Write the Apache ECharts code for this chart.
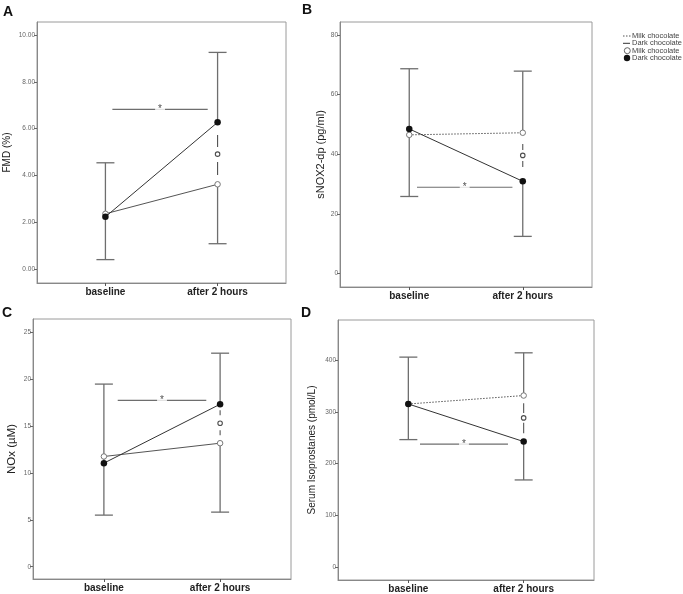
<!DOCTYPE html>
<html>
<head>
<meta charset="utf-8">
<script src="https://cdn.jsdelivr.net/npm/echarts@6/dist/echarts.min.js"></script>
<style>html,body{margin:0;padding:0;background:#fff;}#chart{width:683px;height:594px;}</style>
</head>
<body>
<div id="chart"></div>
<script>
// ---- data ----
const timepoints = ['baseline', 'after 2 hours'];
const panelLetters = ['A', 'B', 'C', 'D'];
const yNames = ['FMD (%)', 'sNOX2-dp (pg/ml)', 'NOx (\u00b5M)', 'Serum Isoprostanes (pmol/L)'];
const legendNames = ['Milk chocolate', 'Dark chocolate'];

// Panel A: FMD (%)
const fmdMilk = [2.36, 3.62];
const fmdDark = [2.23, 6.27];
const fmdErrLow = [0.40, 1.08];
const fmdErrHigh = [4.54, 9.26];
const fmdTicks = [0, 2, 4, 6, 8, 10];
const fmdStar = [0.062, 0.912, 6.82];
const fmdSig = [4.91, 5.73, 5.21, 4.57, 4.02];

// Panel B: sNOX2-dp
const snoxMilk = [46.5, 47.2];
const snoxDark = [48.5, 30.9];
const snoxErrLow = [25.8, 12.4];
const snoxErrHigh = [68.7, 67.9];
const snoxTicks = [0, 20, 40, 60, 80];
const snoxStar = [0.068, 0.909, 28.9];
const snoxSig = [39.6, 43.4, 41.4, 37.7, 35.7];

// Panel C: NOx
const noxMilk = [11.77, 13.19];
const noxDark = [11.06, 17.35];
const noxErrLow = [5.51, 5.83];
const noxErrHigh = [19.5, 22.8];
const noxTicks = [0, 5, 10, 15, 20, 25];
const noxStar = [0.119, 0.881, 17.77];
const noxSig = [15.32, 16.71, 16.18, 14.58, 14.05];

// Panel D: Serum Isoprostanes
const isoMilk = [315, 331.3];
const isoDark = [315, 242.5];
const isoErrLow = [246.3, 168.5];
const isoErrHigh = [405.4, 413.7];
const isoTicks = [0, 100, 200, 300, 400];
const isoStar = [0.101, 0.864, 237.5];
const isoSig = [288.2, 316.4, 297.7, 279, 258.5];

// ---- layout / style ----
const FONT = 'Liberation Sans, Arial, sans-serif';
const panels = [
  { grid: {left: 37, top: 22, width: 249, height: 261}, y: [-0.6, 10.56], ticks: fmdTicks, fmt: v => v.toFixed(2),
    milk: fmdMilk, dark: fmdDark, lo: fmdErrLow, hi: fmdErrHigh, star: fmdStar, sig: fmdSig, milkDotted: false, nameGap: 25, nameSize: 10 },
  { grid: {left: 340, top: 22, width: 252, height: 265}, y: [-4.6, 84.4], ticks: snoxTicks, fmt: v => String(v),
    milk: snoxMilk, dark: snoxDark, lo: snoxErrLow, hi: snoxErrHigh, star: snoxStar, sig: snoxSig, milkDotted: true, nameGap: 12, nameSize: 11 },
  { grid: {left: 33, top: 319, width: 258, height: 260}, y: [-1.31, 26.45], ticks: noxTicks, fmt: v => String(v),
    milk: noxMilk, dark: noxDark, lo: noxErrLow, hi: noxErrHigh, star: noxStar, sig: noxSig, milkDotted: false, nameGap: 15, nameSize: 11.5 },
  { grid: {left: 338, top: 320, width: 256, height: 260}, y: [-24.5, 477], ticks: isoTicks, fmt: v => String(v),
    milk: isoMilk, dark: isoDark, lo: isoErrLow, hi: isoErrHigh, star: isoStar, sig: isoSig, milkDotted: true, nameGap: 21, nameSize: 10 }
];

// error bar: whisker from lo to hi; at the follow-up point the span between the two group means is left open
function errRender(params, api) {
  const x = api.value(0), lo = api.value(1), hi = api.value(2);
  const gLo = api.value(3), gHi = api.value(4);
  const a = api.coord([x, lo]), b = api.coord([x, hi]);
  const w = 9;
  const st = {stroke: '#6e6e6e', lineWidth: 1.3};
  const children = [
    {type: 'line', shape: {x1: a[0] - w, y1: a[1], x2: a[0] + w, y2: a[1]}, style: st},
    {type: 'line', shape: {x1: b[0] - w, y1: b[1], x2: b[0] + w, y2: b[1]}, style: st}
  ];
  if (isNaN(gLo) || isNaN(gHi)) {
    children.push({type: 'line', shape: {x1: a[0], y1: a[1], x2: b[0], y2: b[1]}, style: st});
  } else {
    const c = api.coord([x, gLo]), d = api.coord([x, gHi]);
    children.push({type: 'line', shape: {x1: a[0], y1: a[1], x2: c[0], y2: c[1]}, style: st});
    children.push({type: 'line', shape: {x1: d[0], y1: d[1], x2: b[0], y2: b[1]}, style: st});
  }
  return {type: 'group', children: children};
}

const grids = [], xAxes = [], yAxes = [], series = [];
panels.forEach((p, i) => {
  grids.push(Object.assign({show: true, borderColor: '#9a9a9a', borderWidth: 1, backgroundColor: '#fff'}, p.grid));
  xAxes.push({
    type: 'value', gridIndex: i, min: -0.61, max: 1.61,
    splitLine: {show: false},
    axisLine: {show: true, onZero: false, lineStyle: {color: '#888', width: 1}},
    axisTick: {show: true, customValues: [0, 1], length: 3, lineStyle: {color: '#555'}},
    axisLabel: {customValues: [0, 1], formatter: v => timepoints[Math.round(v)], fontFamily: FONT,
      fontWeight: 'bold', fontSize: 10, color: '#222', margin: 4}
  });
  yAxes.push({
    type: 'value', gridIndex: i, min: p.y[0], max: p.y[1],
    name: yNames[i], nameLocation: 'middle', nameGap: p.nameGap,
    nameTextStyle: {fontFamily: FONT, fontSize: p.nameSize, color: '#222'},
    splitLine: {show: false},
    axisLine: {show: true, onZero: false, lineStyle: {color: '#888', width: 1}},
    axisTick: {show: true, customValues: p.ticks, length: 3, lineStyle: {color: '#666'}},
    axisLabel: {customValues: p.ticks, formatter: p.fmt, fontFamily: FONT, fontSize: 6.5, color: '#666', margin: 2}
  });
  // error bars
  series.push({
    type: 'custom', xAxisIndex: i, yAxisIndex: i, renderItem: errRender, z: 2, silent: true,
    encode: {x: 0, y: [1, 2]},
    data: [0, 1].map(k => k === 0
      ? [k, p.lo[k], p.hi[k], NaN, NaN]
      : [k, p.lo[k], p.hi[k], Math.min(p.milk[k], p.dark[k]), Math.max(p.milk[k], p.dark[k])])
  });
  // significance bracket with star
  series.push({
    type: 'line', xAxisIndex: i, yAxisIndex: i, z: 3, silent: true, symbol: 'none',
    lineStyle: {color: '#6e6e6e', width: 1.2},
    data: [[p.star[0], p.star[2]], [p.star[1], p.star[2]]]
  });
  series.push({
    type: 'scatter', xAxisIndex: i, yAxisIndex: i, z: 4, silent: true, symbolSize: 1,
    itemStyle: {color: 'rgba(0,0,0,0)'},
    label: {show: true, position: 'inside', formatter: '*', fontFamily: FONT, fontSize: 10, color: '#222',
      backgroundColor: '#fff', padding: [1, 3, 0, 3]},
    data: [[(p.star[0] + p.star[1]) / 2, p.star[2]]]
  });
  // between-group marker (dashed segments + small circle)
  series.push({
    type: 'line', xAxisIndex: i, yAxisIndex: i, z: 3, silent: true, symbol: 'none', connectNulls: false,
    lineStyle: {color: '#555', width: 1.1},
    data: [[1, p.sig[1]], [1, p.sig[2]], [1, null], [1, p.sig[3]], [1, p.sig[4]]]
  });
  series.push({
    type: 'scatter', xAxisIndex: i, yAxisIndex: i, z: 4, silent: true, symbol: 'circle', symbolSize: 4.5,
    itemStyle: {color: '#fff', borderColor: '#222', borderWidth: 1.1},
    data: [[1, p.sig[0]]]
  });
  // milk chocolate
  series.push({
    type: 'line', xAxisIndex: i, yAxisIndex: i, z: 5, silent: true,
    symbol: 'circle', symbolSize: 5.5, showAllSymbol: true,
    lineStyle: {color: '#555', width: 1, type: p.milkDotted ? [1.5, 1.5] : 'solid'},
    itemStyle: {color: '#fff', borderColor: '#777', borderWidth: 1},
    data: [0, 1].map(k => [k, p.milk[k]])
  });
  // dark chocolate
  series.push({
    type: 'line', xAxisIndex: i, yAxisIndex: i, z: 6, silent: true,
    symbol: 'circle', symbolSize: 6.5, showAllSymbol: true,
    lineStyle: {color: '#333', width: 1},
    itemStyle: {color: '#111', borderColor: '#111', borderWidth: 0},
    data: [0, 1].map(k => [k, p.dark[k]])
  });
});

const letterPos = [[3, 5], [302, 3], [2, 306], [301, 306]];
const graphics = panelLetters.map((L, i) => ({
  type: 'text', left: letterPos[i][0], top: letterPos[i][1],
  style: {text: L, fontFamily: FONT, fontWeight: 'bold', fontSize: 14, fill: '#111'}
}));
// legend
const lx = 623, lt = 632, lf = {fontFamily: FONT, fontSize: 7.5, fill: '#444', verticalAlign: 'middle'};
graphics.push(
  {type: 'line', shape: {x1: lx, y1: 36, x2: 631, y2: 36}, style: {stroke: '#555', lineWidth: 1, lineDash: [1.5, 1.5]}},
  {type: 'text', x: lt, y: 36, style: Object.assign({text: legendNames[0]}, lf)},
  {type: 'line', shape: {x1: lx, y1: 43.3, x2: 630, y2: 43.3}, style: {stroke: '#333', lineWidth: 1}},
  {type: 'text', x: lt, y: 43.3, style: Object.assign({text: legendNames[1]}, lf)},
  {type: 'circle', shape: {cx: 627.3, cy: 50.7, r: 3}, style: {fill: '#fff', stroke: '#555', lineWidth: 0.9}},
  {type: 'text', x: lt, y: 50.7, style: Object.assign({text: legendNames[0]}, lf)},
  {type: 'circle', shape: {cx: 627, cy: 58, r: 3.2}, style: {fill: '#111'}},
  {type: 'text', x: lt, y: 58, style: Object.assign({text: legendNames[1]}, lf)}
);

const chart = echarts.init(document.getElementById('chart'), null, {renderer: 'canvas'});
chart.setOption({
  animation: false,
  backgroundColor: '#fff',
  grid: grids, xAxis: xAxes, yAxis: yAxes, series: series, graphic: graphics
});
</script>
</body>
</html>
